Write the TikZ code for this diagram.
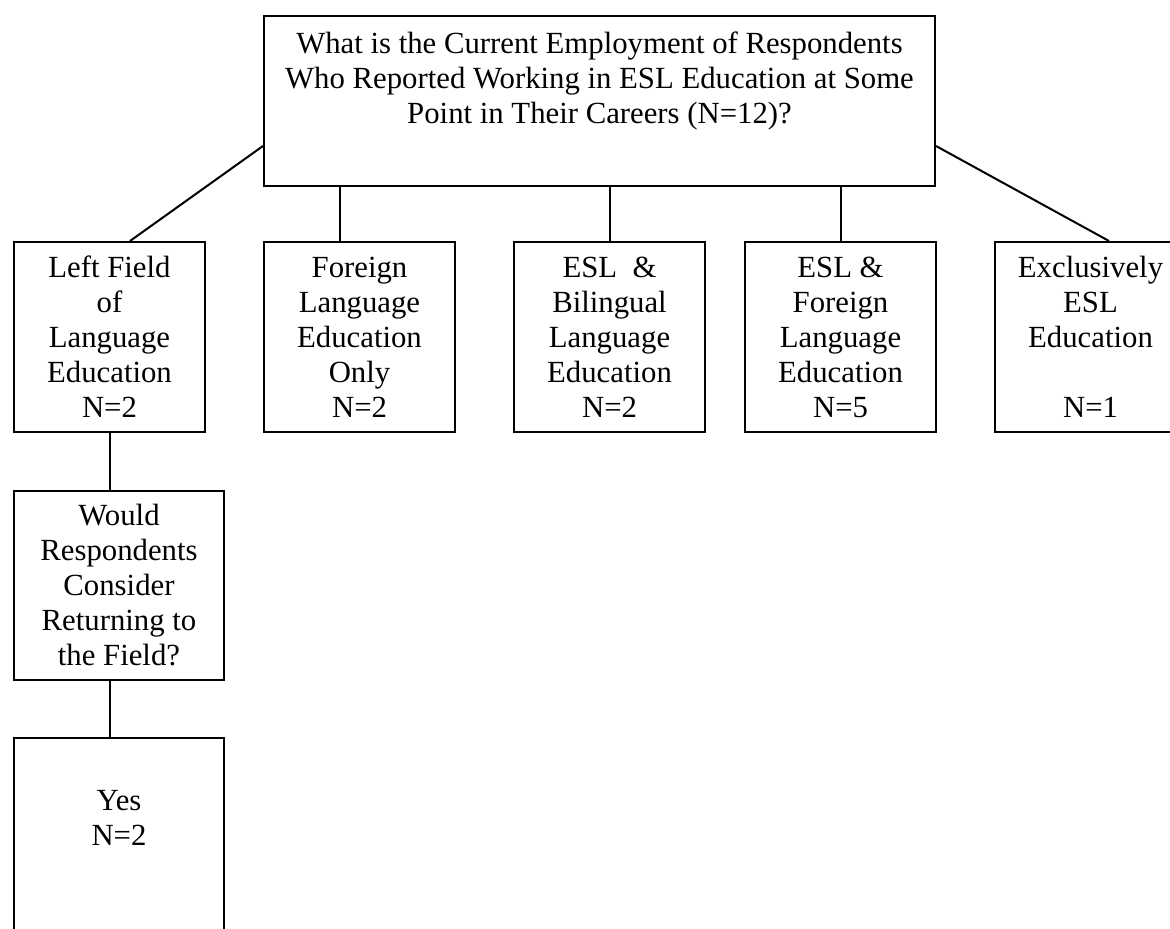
\documentclass[tikz,border=0pt]{standalone}
\usepackage{fontspec}
\setmainfont{Liberation Serif}
\usetikzlibrary{positioning, calc}

\begin{document}
\begin{tikzpicture}[
    x=0.4pt, y=-0.4pt,
    txt/.style={align=center, inner sep=0pt, font=\fontsize{12.3}{14}\selectfont},
    box/.style={rectangle, draw=black, line width=0.8pt, txt},
    cbox/.style={box, minimum width=76.4pt, minimum height=76pt},
    conn/.style={line width=0.8pt, color=black}
]
\useasboundingbox (0,0) rectangle (1170,928);
\clip (0,0) rectangle (1170,928);

% Question
\node[box, anchor=north west, minimum width=268.4pt, minimum height=68pt] (q) at (263,15) {};
\node[txt, below=6.6pt of q.north] (qtext) {What is the Current Employment of Respondents\\Who Reported Working in ESL Education at Some\\Point in Their Careers (N=12)?};

% Categories
\node[cbox, anchor=north west] (left) at (13,241) {Left Field\\of\\Language\\Education\\N=2};
\node[cbox, right=22.8pt of left] (fl) {Foreign\\Language\\Education\\Only\\N=2};
\node[cbox, right=22.8pt of fl] (eslbil) {ESL\ \ \&\\Bilingual\\Language\\Education\\N=2};
\node[cbox, right=15.2pt of eslbil] (eslfl) {ESL \&\\Foreign\\Language\\Education\\N=5};
\node[cbox, right=22.8pt of eslfl] (excl) {Exclusively\\ESL\\Education\\[14pt]N=1};

% Follow-up
\node[box, below right=22.8pt and 0pt of left.south west, minimum width=84pt, minimum height=75.6pt] (ret) {Would\\Respondents\\Consider\\Returning to\\the Field?};
\node[box, below=22.4pt of ret, minimum width=84pt, minimum height=112pt] (yes) {};
\node[txt, below=21.2pt of yes.north] (yestext) {Yes\\N=2};

% Connectors
\draw[conn] ([yshift=-18pt]q.west) -- ([xshift=8.2pt]left.north);
\draw[conn] ([xshift=-7.8pt]fl.north) -- ([xshift=-7.8pt]fl.north |- q.south);
\draw[conn] (eslbil.north) -- (eslbil.north |- q.south);
\draw[conn] (eslfl.north) -- (eslfl.north |- q.south);
\draw[conn] ([yshift=-18pt]q.east) -- ([xshift=7.4pt]excl.north);
\draw[conn] (left.south) -- (left.south |- ret.north);
\draw[conn] (ret.south -| left.south) -- (yes.north -| left.south);

\end{tikzpicture}
\end{document}
